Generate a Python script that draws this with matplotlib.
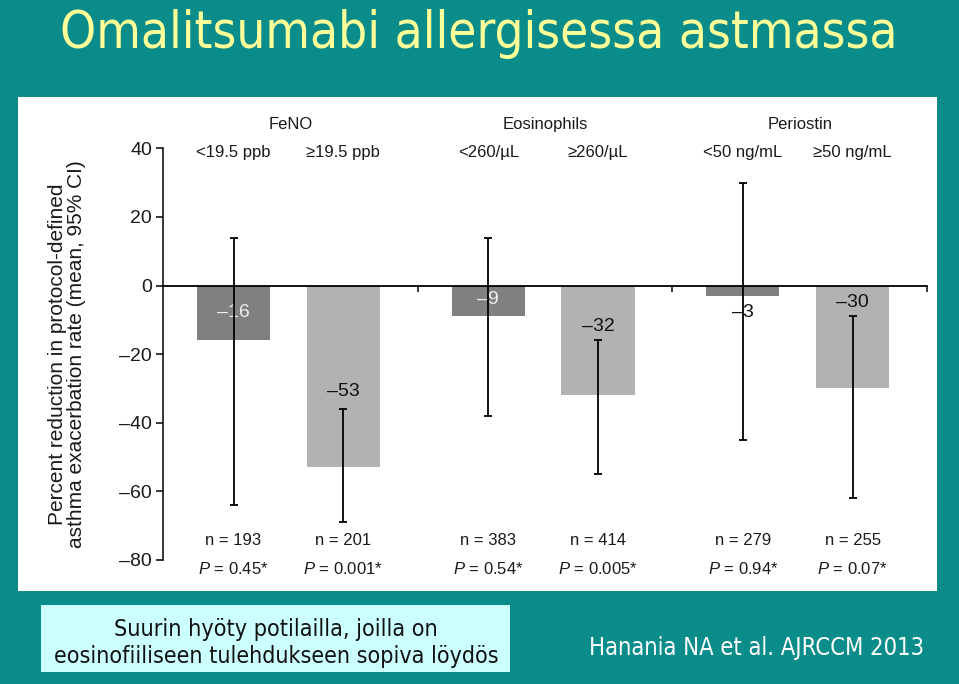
import matplotlib
matplotlib.use('Agg')
import matplotlib.pyplot as plt
from matplotlib import font_manager as fm
from matplotlib.patches import Rectangle
import matplotlib.transforms as mtransforms

# ---------------- data ----------------
groups = ['FeNO', 'Eosinophils', 'Periostin']
subgroups = ['<19.5 ppb', '≥19.5 ppb', '<260/µL', '≥260/µL', '<50 ng/mL', '≥50 ng/mL']
means = [-16, -53, -9, -32, -3, -30]
ci_low = [-64, -69, -38, -55, -45, -62]
ci_high = [14, -36, 14, -16, 30, -9]
n_values = [193, 201, 383, 414, 279, 255]
p_values = ['0.45', '0.001', '0.54', '0.005', '0.94', '0.07']
yticks = [40, 20, 0, -20, -40, -60, -80]
title = 'Omalitsumabi allergisessa astmassa'
note_lines = ['Suurin hyöty potilailla, joilla on', 'eosinofiiliseen tulehdukseen sopiva löydös']
source = 'Hanania NA et al. AJRCCM 2013'
ylabel = 'Percent reduction in protocol-defined\nasthma exacerbation rate (mean, 95% CI)'

# label placement (layout, data units)
label_y = [-8, -31, -4.2, -12, -8, -4.8]

# ---------------- style ----------------
plt.rcParams['font.family'] = ['Liberation Sans', 'DejaVu Sans']
plt.rcParams['mathtext.fontset'] = 'custom'
plt.rcParams['mathtext.rm'] = 'Liberation Sans'
plt.rcParams['mathtext.it'] = 'Liberation Sans:italic'

TEAL = '#0a8c8a'
DARK = '#808080'
LIGHT = '#b2b2b2'
INK = '#1a1a1a'

W, H = 959, 684
fig = plt.figure(figsize=(W / 100, H / 100), dpi=100)
fig.patch.set_facecolor(TEAL)


def px(x, y):
    return x / W, 1 - y / H


# condensed slide font
def slide_font():
    try:
        p = fm.findfont(fm.FontProperties(family='DejaVu Sans', stretch='condensed'),
                        fallback_to_default=False)
        if 'ondensed' in p:
            return dict(family='DejaVu Sans', fontstretch='condensed')
    except Exception:
        pass
    for fam in ['Liberation Sans Narrow', 'Roboto Condensed']:
        try:
            fm.findfont(fm.FontProperties(family=fam), fallback_to_default=False)
            return dict(family=fam)
        except Exception:
            pass
    return dict(family='DejaVu Sans')


SF = slide_font()

# white panel
fig.add_artist(Rectangle(px(18, 591), 919 / W, 494 / H, transform=fig.transFigure,
                         facecolor='white', edgecolor='none', zorder=0))
# note box
fig.add_artist(Rectangle(px(41, 672), 469 / W, 67 / H, transform=fig.transFigure,
                         facecolor='#ccffff', edgecolor='none', zorder=0))

# ---------------- axes ----------------
x0, x1 = 163, 927
ytop, ybot = 148.3, 560
ax = fig.add_axes([x0 / W, 1 - ybot / H, (x1 - x0) / W, (ybot - ytop) / H])
ax.set_facecolor('none')
ax.set_xlim(0, 3)
ax.set_ylim(-80, 40)

ng = len(groups)
xs = []
for g in range(ng):
    for off in (-0.2155, 0.2155):
        xs.append(g + 0.4925 + off)
colors = [DARK if i % 2 == 0 else LIGHT for i in range(len(means))]

ax.bar(xs, means, width=0.287, color=colors, edgecolor='none', zorder=2)
yerr = [[m - lo for m, lo in zip(means, ci_low)], [hi - m for m, hi in zip(means, ci_high)]]
ax.errorbar(xs, means, yerr=yerr, fmt='none', ecolor='black', elinewidth=1.3,
            capsize=3.2, capthick=1.3, zorder=4)

for spine in ['top', 'right']:
    ax.spines[spine].set_visible(False)
ax.spines['bottom'].set_position(('data', 0))
ax.spines['bottom'].set_linewidth(1.3)
ax.spines['left'].set_linewidth(1.1)
ax.spines['bottom'].set_zorder(5)
ax.set_xticks(range(1, ng + 1))
ax.set_xticklabels([])
ax.tick_params(axis='x', direction='out', length=4.5, width=1.1)
ax.set_yticks(yticks)
ax.set_yticklabels([str(v).replace('-', '\u2013') for v in yticks])
ax.tick_params(axis='y', direction='out', length=5, width=1.1, labelsize=14, pad=3,
               labelcolor=INK)

ax.text(-0.126, 0.5, ylabel, transform=ax.transAxes, rotation=90, ha='center', va='center',
        multialignment='center', fontsize=15, linespacing=1.0, color=INK)

tr = mtransforms.blended_transform_factory(ax.transData, ax.transAxes)
for g, name in enumerate(groups):
    ax.text(g + 0.4925 + 0.008, 1.0566, name, transform=tr, ha='center', va='center',
            fontsize=12, color=INK, clip_on=False)
for i, x in enumerate(xs):
    ax.text(x, 0.9886, subgroups[i], transform=tr, ha='center', va='center',
            fontsize=12, color=INK, clip_on=False)
    ax.text(x, 0.0469, f'n = {n_values[i]}', transform=tr, ha='center', va='center',
            fontsize=12, color=INK, clip_on=False)
    ax.text(x, -0.0219, f'$P$ = {p_values[i]}*', transform=tr, ha='center', va='center',
            fontsize=12, color=INK, clip_on=False)
    inside_dark = (i % 2 == 0) and (label_y[i] > means[i])
    ax.text(x, label_y[i], str(means[i]).replace('-', '\u2013'), ha='center', va='center',
            fontsize=14, color='#eeeeee' if inside_dark else '#111111', zorder=3)

# ---------------- slide texts ----------------
fig.canvas.draw()
renderer = fig.canvas.get_renderer()


def fit_text(x, y, s, target_w, fs, **kw):
    t = fig.text(x, y, s, fontsize=fs, **SF, **kw)
    w = t.get_window_extent(renderer).width
    t.set_fontsize(fs * target_w / w)
    return t


fit_text(478.5 / W, 1 - 48 / H, title, 837, 40, ha='center', va='baseline', color='#ffff99')
fit_text(276 / W, 1 - 636 / H, note_lines[0], 324, 16, ha='center', va='baseline', color='#111111')
fit_text(276 / W, 1 - 663 / H, note_lines[1], 446, 16, ha='center', va='baseline', color='#111111')
fit_text(756.5 / W, 1 - 655 / H, source, 337, 16, ha='center', va='baseline', color='white')

fig.savefig('out.png', dpi=100, facecolor=fig.get_facecolor())
